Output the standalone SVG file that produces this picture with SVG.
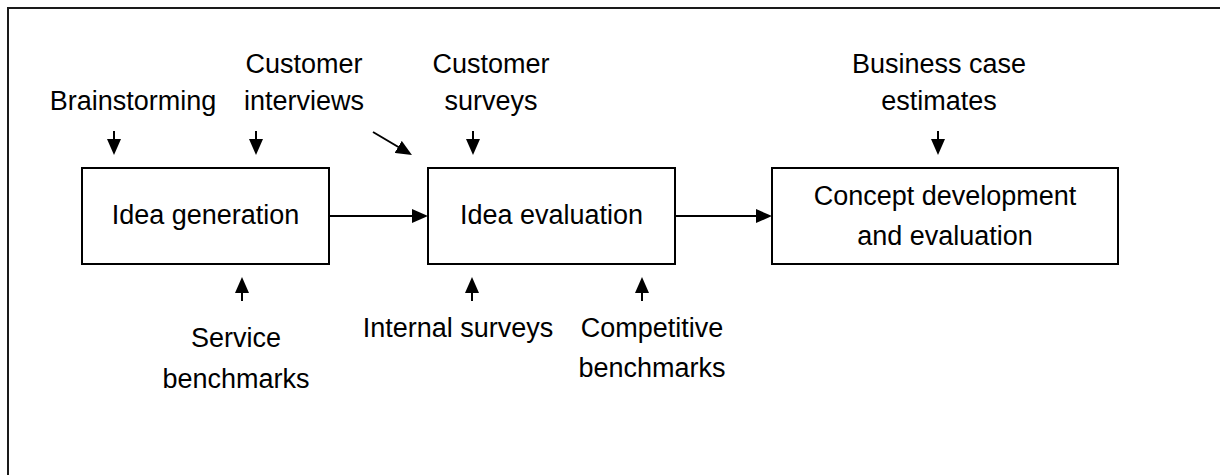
<svg xmlns="http://www.w3.org/2000/svg" width="1220" height="475" viewBox="0 0 1220 475">
  <style>
    .box { fill: #ffffff; stroke: #000000; stroke-width: 2; }
    .frame { fill: none; stroke: #1a1a1a; stroke-width: 2; }
    .lbl { font-family: "Liberation Sans", Arial, sans-serif; font-size: 27px; fill: #000000; text-anchor: middle; }
    .conn { stroke: #000000; stroke-width: 2; fill: none; marker-end: url(#arrow); }
  </style>
  <defs>
    <marker id="arrow" markerUnits="userSpaceOnUse" markerWidth="16" markerHeight="14" refX="10" refY="7" orient="auto">
      <path d="M0,0 L16,7 L0,14 Z" fill="#000000"/>
    </marker>
  </defs>
  <rect x="0" y="0" width="1220" height="475" fill="#ffffff"/>
  <rect class="frame" x="8" y="8" width="1250" height="500"/>

  <g id="node-idea-generation">
    <rect class="box" x="82" y="168" width="247" height="96"/>
    <text class="lbl" x="205.5" y="224">Idea generation</text>
  </g>
  <g id="node-idea-evaluation">
    <rect class="box" x="428" y="168" width="247" height="96"/>
    <text class="lbl" x="551.5" y="224">Idea evaluation</text>
  </g>
  <g id="node-concept-development">
    <rect class="box" x="772" y="168" width="346" height="96"/>
    <text class="lbl" x="945" y="205">Concept development</text>
    <text class="lbl" x="945" y="245">and evaluation</text>
  </g>

  <g id="labels">
    <g id="lbl-brainstorming"><text class="lbl" x="133" y="110">Brainstorming</text></g>
    <g id="lbl-customer-interviews">
      <text class="lbl" x="304" y="73">Customer</text>
      <text class="lbl" x="304" y="110">interviews</text>
    </g>
    <g id="lbl-customer-surveys">
      <text class="lbl" x="491" y="73">Customer</text>
      <text class="lbl" x="491" y="110">surveys</text>
    </g>
    <g id="lbl-business-case">
      <text class="lbl" x="939" y="73">Business case</text>
      <text class="lbl" x="939" y="110">estimates</text>
    </g>
    <g id="lbl-service-benchmarks">
      <text class="lbl" x="236" y="347">Service</text>
      <text class="lbl" x="236" y="388">benchmarks</text>
    </g>
    <g id="lbl-internal-surveys"><text class="lbl" x="458" y="337">Internal surveys</text></g>
    <g id="lbl-competitive-benchmarks">
      <text class="lbl" x="652" y="337">Competitive</text>
      <text class="lbl" x="652" y="377">benchmarks</text>
    </g>
  </g>

  <g id="connectors">
    <line class="conn" x1="114" y1="131" x2="114" y2="149"/>
    <line class="conn" x1="256" y1="131" x2="256" y2="149"/>
    <line class="conn" x1="373" y1="132" x2="406.8" y2="152"/>
    <line class="conn" x1="473" y1="131" x2="473" y2="149"/>
    <line class="conn" x1="938" y1="131" x2="938" y2="149"/>
    <line class="conn" x1="329" y1="216" x2="422" y2="216"/>
    <line class="conn" x1="675" y1="216" x2="766" y2="216"/>
    <line class="conn" x1="242" y1="301" x2="242" y2="283"/>
    <line class="conn" x1="472" y1="301" x2="472" y2="283"/>
    <line class="conn" x1="642" y1="301" x2="642" y2="283"/>
  </g>
</svg>
